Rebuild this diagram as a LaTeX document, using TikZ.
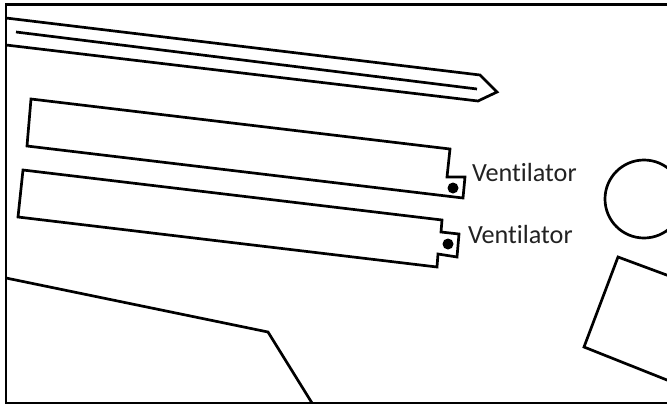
\documentclass[tikz,border=0pt]{standalone}
\usepackage{fontspec}
\setmainfont{Carlito}[Ligatures=NoCommon]
\definecolor{ink}{HTML}{000000}
\definecolor{labelink}{HTML}{222222}
\tikzset{
  outline/.style={draw=ink,line width=2.7pt,line join=miter},
  frameline/.style={draw=ink,line width=2.8pt},
  fandot/.style={fill=ink,draw=none},
  fanlabel/.style={text=labelink,font=\fontsize{26.2}{28}\selectfont,anchor=base west,inner sep=0pt,outer sep=0pt}
}
\begin{document}
\begin{tikzpicture}[x=1pt,y=-1pt]
\useasboundingbox (0,0) rectangle (667,405);
\clip (0,0) rectangle (667,405);
\fill[white] (0,0) rectangle (667,405);
% frame
\draw[frameline] (672,4.7) -- (6,4.7) -- (6,403) -- (672,403);
% blade
\draw[outline] (6,18) -- (480,75) -- (497,92) -- (478,101) -- (6,45);
\draw[outline] (16,32) -- (477,89);
% upper slat
\draw[outline] (31,99) -- (27,146) -- (463,198) -- (465,177) -- (447,177) -- (450,149) -- cycle;
\fill[fandot] (453,188) circle (5.5);
% lower slat
\draw[outline] (23,170) -- (18,217) -- (437,267) -- (438,254) -- (457,257) -- (459,234) -- (441,232) -- (442,220) -- cycle;
\fill[fandot] (448,244) circle (5.5);
% circle
\draw[outline] (644,199) circle (39);
% quadrilateral
\draw[outline] (672,277) -- (618,257) -- (584,347) -- (672,382);
% lower left polyline
\draw[outline] (6,278) -- (268,332) -- (312,403);
% labels
\node[fanlabel] (v1) at (472,181) {Ventilator};
\node[fanlabel] (v2) at (468,243) {Ventilator};
\end{tikzpicture}
\end{document}
